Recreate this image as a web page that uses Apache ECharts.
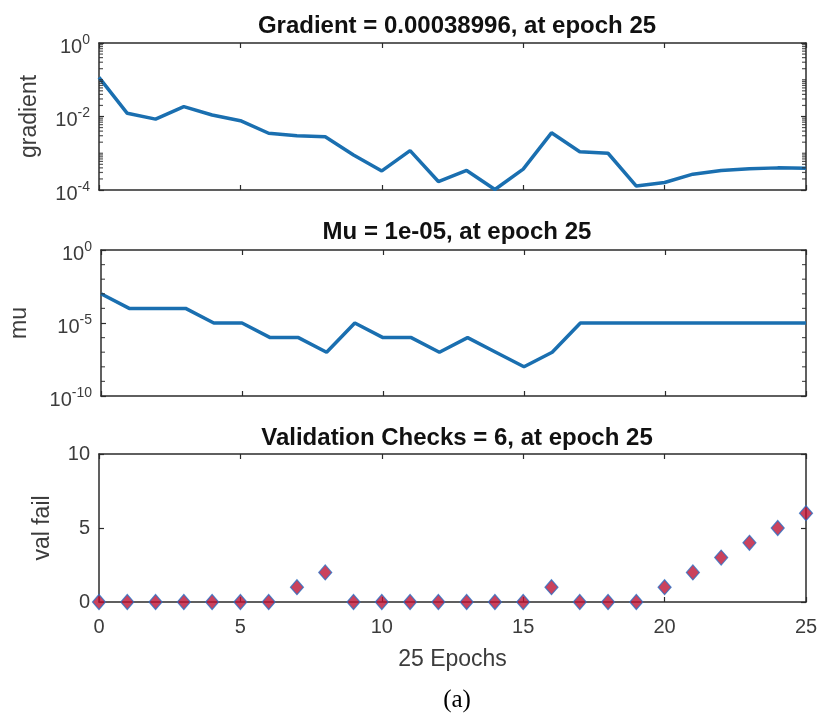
<!DOCTYPE html>
<html>
<head>
<meta charset="utf-8">
<script src="https://cdn.jsdelivr.net/npm/echarts@6/dist/echarts.min.js"></script>
<style>
  html, body { margin: 0; padding: 0; background: #fff; }
  #chart { width: 821px; height: 720px; }
</style>
</head>
<body>
<div id="chart"></div>
<script>
// Training record of a network over 25 epochs
const epochs = [0, 1, 2, 3, 4, 5, 6, 7, 8, 9, 10, 11, 12, 13, 14, 15, 16, 17, 18, 19, 20, 21, 22, 23, 24, 25];
const gradientValues = [0.116, 0.0122, 0.0085, 0.0185, 0.011, 0.0077, 0.0035, 0.003, 0.0028, 0.0009,
  0.00033, 0.00118, 0.00017, 0.00034, 0.000103, 0.00037, 0.0036, 0.0011, 0.001, 0.000128,
  0.00016, 0.00027, 0.00034, 0.00038, 0.0004, 0.00038996];
const muValues = [1e-3, 1e-4, 1e-4, 1e-4, 1e-5, 1e-5, 1e-6, 1e-6, 1e-7, 1e-5,
  1e-6, 1e-6, 1e-7, 1e-6, 1e-7, 1e-8, 1e-7, 1e-5, 1e-5, 1e-5,
  1e-5, 1e-5, 1e-5, 1e-5, 1e-5, 1e-5];
const valFailValues = [0, 0, 0, 0, 0, 0, 0, 1, 2, 0, 0, 0, 0, 0, 0, 0, 1, 0, 0, 0, 1, 2, 3, 4, 5, 6];
const xTickValues = [0, 5, 10, 15, 20, 25];
// Minor tick positions of the two logarithmic axes
const gradientMinorTicks = [
  2e-4, 3e-4, 4e-4, 5e-4, 6e-4, 7e-4, 8e-4, 9e-4, 1e-3,
  2e-3, 3e-3, 4e-3, 5e-3, 6e-3, 7e-3, 8e-3, 9e-3,
  2e-2, 3e-2, 4e-2, 5e-2, 6e-2, 7e-2, 8e-2, 9e-2, 1e-1,
  2e-1, 3e-1, 4e-1, 5e-1, 6e-1, 7e-1, 8e-1, 9e-1
];
const muMinorTicks = [1e-1, 1e-2, 1e-3, 1e-4, 1e-6, 1e-7, 1e-8, 1e-9];
const titles = [
  'Gradient = 0.00038996, at epoch 25',
  'Mu = 1e-05, at epoch 25',
  'Validation Checks = 6, at epoch 25'
];

const FONT = '"Liberation Sans", Arial, Helvetica, sans-serif';
const AXIS_COLOR = '#2b2b2b';
const LABEL_COLOR = '#3c3c3c';
const LINE_COLOR = '#1a6fb0';
const TICK_FONT = 20;
const NAME_FONT = 23;

const chart = echarts.init(document.getElementById('chart'), null, { renderer: 'canvas' });

const grids = [
  { left: 99, right: 15, top: 43, height: 147 },
  { left: 99, right: 15, top: 250, height: 146 },
  { left: 99, right: 15, top: 454, height: 148 }
];

function pow10Label(value) {
  const e = Math.round(Math.log10(value));
  return '{b|10}{s|' + e + '}';
}
const powRich = {
  b: { fontSize: TICK_FONT, fontFamily: FONT, color: LABEL_COLOR, padding: [8, 0, 0, 0] },
  s: { fontSize: 14, fontFamily: FONT, color: LABEL_COLOR, padding: [0, 0, 6, 0] }
};

function xAxes(gridIndex, showLabels) {
  const common = {
    type: 'value', gridIndex: gridIndex, min: 0, max: 25, interval: 5,
    splitLine: { show: false },
    axisLine: { show: true, onZero: false, lineStyle: { color: AXIS_COLOR, width: 1.5 } },
    axisTick: { show: true, inside: true, length: 5, lineStyle: { color: AXIS_COLOR, width: 1.2 } }
  };
  const bottom = Object.assign({}, common, {
    position: 'bottom',
    axisLabel: showLabels ? {
      show: true, margin: 15, fontSize: TICK_FONT, fontFamily: FONT, color: LABEL_COLOR,
      customValues: xTickValues
    } : { show: false }
  });
  if (showLabels) {
    bottom.name = '25 Epochs';
    bottom.nameLocation = 'middle';
    bottom.nameGap = 46;
    bottom.nameTextStyle = { fontSize: NAME_FONT, fontFamily: FONT, color: LABEL_COLOR };
  }
  const top = Object.assign({}, common, { position: 'top', axisLabel: { show: false } });
  return [bottom, top];
}

function yAxes(gridIndex, cfg) {
  const common = Object.assign({
    gridIndex: gridIndex,
    splitLine: { show: false },
    axisLine: { show: true, onZero: false, lineStyle: { color: AXIS_COLOR, width: 1.5 } },
    axisTick: { show: true, inside: true, length: 5, lineStyle: { color: AXIS_COLOR, width: 1.2 } }
  }, cfg.scale);
  const left = Object.assign({}, common, {
    position: 'left',
    name: cfg.name, nameLocation: 'middle', nameGap: cfg.nameGap, nameRotate: 90,
    nameTextStyle: { fontSize: NAME_FONT, fontFamily: FONT, color: LABEL_COLOR },
    axisLabel: Object.assign({ show: true, margin: 9, fontSize: TICK_FONT, fontFamily: FONT, color: LABEL_COLOR }, cfg.label || {})
  });
  const right = Object.assign({}, common, { position: 'right', axisLabel: { show: false } });
  return [left, right];
}

// Short inward marks along one vertical frame edge at each minor tick value
function minorTickSeries(values, xAxisIndex, yAxisIndex, edgeX, dir) {
  return {
    type: 'scatter', xAxisIndex: xAxisIndex, yAxisIndex: yAxisIndex,
    silent: true, clip: false, z: 6,
    symbol: 'rect', symbolSize: [4, 1.2], symbolOffset: [dir * 2, 0],
    itemStyle: { color: AXIS_COLOR },
    emphasis: { disabled: true },
    data: values.map(function (v) { return [edgeX, v]; })
  };
}

const xFirst = epochs[0];
const xLast = epochs[epochs.length - 1];

const option = {
  backgroundColor: '#ffffff',
  animation: false,
  title: titles.map(function (t, i) {
    return {
      text: t, left: 452, textAlign: 'center', top: [9, 215, 421][i],
      textStyle: { fontSize: 24, fontWeight: 'bold', fontFamily: FONT, color: '#111' }
    };
  }),
  grid: grids,
  xAxis: [].concat(xAxes(0, false), xAxes(1, false), xAxes(2, true)),
  yAxis: [].concat(
    yAxes(0, {
      name: 'gradient', nameGap: 58,
      scale: { type: 'log', logBase: 10, min: 1e-4, max: 1, interval: 2 },
      label: { formatter: pow10Label, rich: powRich }
    }),
    yAxes(1, {
      name: 'mu', nameGap: 70,
      scale: { type: 'log', logBase: 10, min: 1e-10, max: 1, interval: 5 },
      label: { formatter: pow10Label, rich: powRich }
    }),
    yAxes(2, {
      name: 'val fail', nameGap: 45,
      scale: { type: 'value', min: 0, max: 10, interval: 5 }
    })
  ),
  series: [
    minorTickSeries(gradientMinorTicks, 0, 0, xFirst, 1),
    minorTickSeries(gradientMinorTicks, 0, 0, xLast, -1),
    minorTickSeries(muMinorTicks, 2, 2, xFirst, 1),
    minorTickSeries(muMinorTicks, 2, 2, xLast, -1),
    {
      type: 'line', xAxisIndex: 0, yAxisIndex: 0,
      data: epochs.map(function (e, i) { return [e, gradientValues[i]]; }),
      showSymbol: false, lineStyle: { color: LINE_COLOR, width: 3.5 }, z: 3
    },
    {
      type: 'line', xAxisIndex: 2, yAxisIndex: 2,
      data: epochs.map(function (e, i) { return [e, muValues[i]]; }),
      showSymbol: false, lineStyle: { color: LINE_COLOR, width: 3.5 }, z: 3
    },
    {
      type: 'scatter', xAxisIndex: 4, yAxisIndex: 4,
      data: epochs.map(function (e, i) { return [e, valFailValues[i]]; }),
      symbol: 'diamond', symbolSize: [13, 15], clip: false,
      itemStyle: { color: '#bd1335', borderColor: '#2c6fc4', borderWidth: 1.2 }, z: 5
    }
  ],
  graphic: [
    {
      type: 'text', x: 457, y: 700,
      style: {
        text: '(a)', fill: '#000', font: '25px "Liberation Serif", "Times New Roman", serif',
        textAlign: 'center', textVerticalAlign: 'middle'
      }
    }
  ]
};

chart.setOption(option);
</script>
</body>
</html>
